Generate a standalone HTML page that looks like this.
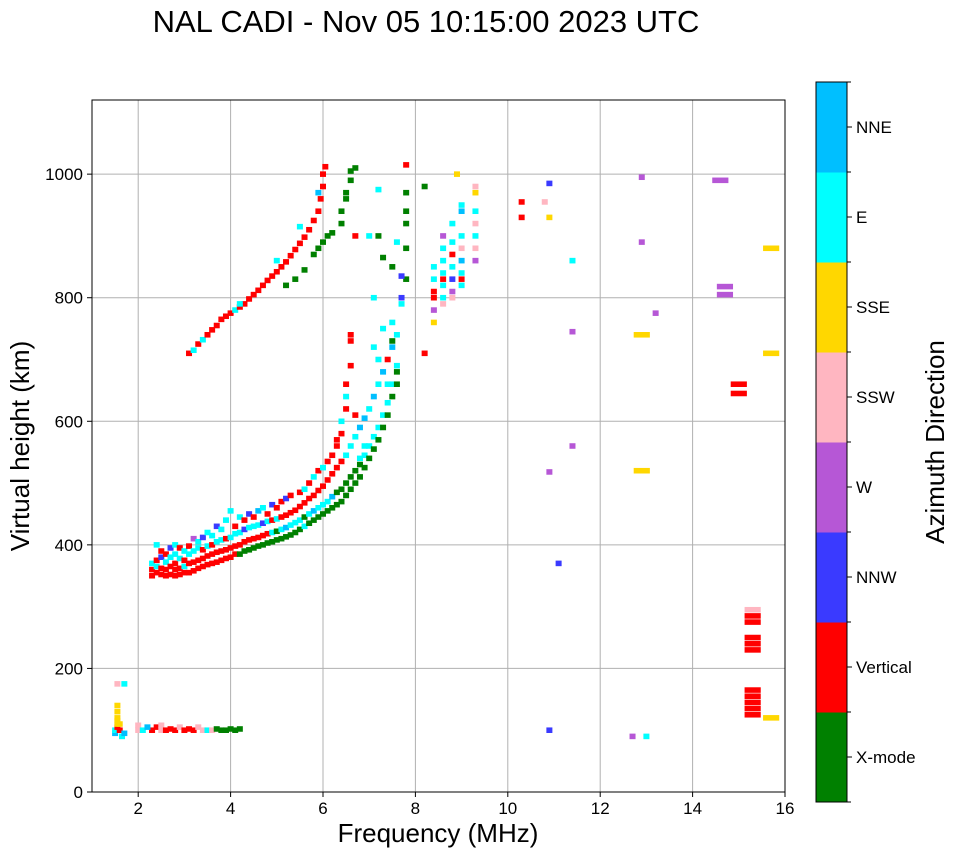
<!DOCTYPE html>
<html><head><meta charset="utf-8"><style>
body{margin:0;background:#fff;font-family:"Liberation Sans",sans-serif}
svg{display:block}
</style></head><body>
<svg id="chart" width="958" height="857" xmlns="http://www.w3.org/2000/svg">
<text x="426" y="32" font-size="31" text-anchor="middle">NAL CADI - Nov 05 10:15:00 2023 UTC</text>
<g id="grid"></g>
<g id="marks"></g>
<rect x="92" y="100" width="693" height="692" fill="none" stroke="#000" stroke-width="1"/>
<g id="axes"></g>
<text x="438" y="842" font-size="26" text-anchor="middle">Frequency (MHz)</text>
<text transform="translate(29,446) rotate(-90)" font-size="26" text-anchor="middle">Virtual height (km)</text>
<g id="cbar"></g>
<text transform="translate(944,442) rotate(-90)" font-size="26" text-anchor="middle">Azimuth Direction</text>
</svg>
<script>
const xTicks=[2,4,6,8,10,12,14,16];
const yTicks=[0,200,400,600,800,1000];
const categories=["X-mode","Vertical","NNW","W","SSW","SSE","E","NNE"];
const catColors=["#008000","#ff0000","#3a3aff","#b657d6","#ffb6c1","#ffd700","#00ffff","#00bfff"];
// [freq MHz, height km, category index, optional width MHz]
const eLayer=[[1.5,95,7],[1.5,100,6],[1.55,105,1],[1.55,110,5],[1.55,115,5],[1.55,120,5],[1.55,130,5],[1.55,140,5],[1.6,100,1],[1.6,110,5],[1.55,175,4],[1.7,175,6],[1.65,90,6],[1.7,95,7],[2.0,100,4],[2.0,108,4],[2.1,100,6],[2.3,100,1],[2.4,105,1],[2.5,100,4],[2.5,108,4],[2.6,100,1],[2.7,102,1],[2.8,100,1],[2.9,105,4],[3.0,100,1],[3.1,102,1],[3.2,100,1],[3.3,105,4],[3.4,100,4],[3.5,100,6],[3.6,100,4],[3.7,102,0],[3.8,100,0],[3.9,100,0],[4.0,102,0],[4.1,100,0],[4.2,102,0],[2.2,105,7]];
const fTrace=[[2.3,360,1],[2.3,370,6],[2.3,350,1],[2.4,355,1],[2.4,365,6],[2.4,375,1],[2.4,400,6],[2.5,352,1],[2.5,362,1],[2.5,380,2],[2.5,390,1],[2.6,350,1],[2.6,360,1],[2.6,372,6],[2.6,385,1],[2.7,352,1],[2.7,365,1],[2.7,380,6],[2.7,395,2],[2.8,350,1],[2.8,360,1],[2.8,370,1],[2.8,385,6],[2.8,400,6],[2.9,352,1],[2.9,362,1],[2.9,378,6],[2.9,395,1],[3.0,355,1],[3.0,365,6],[3.0,375,1],[3.0,390,6],[3.1,355,1],[3.1,370,1],[3.1,385,6],[3.1,398,1],[3.2,358,1],[3.2,372,1],[3.2,390,6],[3.2,410,3],[3.3,362,1],[3.3,375,1],[3.3,395,6],[3.3,405,6],[3.4,365,1],[3.4,378,1],[3.4,392,1],[3.4,412,2],[3.5,368,1],[3.5,382,1],[3.5,398,6],[3.5,420,6],[3.6,370,1],[3.6,385,1],[3.6,400,1],[3.6,415,6],[3.7,372,1],[3.7,388,1],[3.7,405,6],[3.7,430,2],[3.8,375,1],[3.8,390,1],[3.8,408,6],[3.8,425,6],[3.9,378,1],[3.9,392,1],[3.9,410,1],[3.9,440,6],[4.0,380,1],[4.0,395,1],[4.0,412,6],[4.0,455,6],[4.1,385,1],[4.1,398,1],[4.1,418,6],[4.1,430,1],[4.2,385,0],[4.2,400,1],[4.2,420,6],[4.2,445,6],[4.3,390,0],[4.3,405,1],[4.3,425,2],[4.3,440,1],[4.4,392,0],[4.4,408,1],[4.4,428,6],[4.4,450,2],[4.5,395,0],[4.5,410,1],[4.5,430,6],[4.5,445,1],[4.6,398,0],[4.6,412,1],[4.6,432,6],[4.6,455,7],[4.7,400,0],[4.7,415,1],[4.7,435,2],[4.7,460,6],[4.8,403,0],[4.8,418,1],[4.8,438,6],[4.8,450,1],[4.9,405,0],[4.9,420,6],[4.9,440,1],[4.9,465,2],[5.0,408,0],[5.0,422,0],[5.0,442,6],[5.0,460,1],[5.1,410,0],[5.1,425,6],[5.1,445,1],[5.1,470,1],[5.2,413,0],[5.2,428,7],[5.2,448,1],[5.2,475,2],[5.3,416,0],[5.3,432,6],[5.3,452,1],[5.3,480,1],[5.4,420,0],[5.4,436,6],[5.4,456,1],[5.5,425,0],[5.5,440,6],[5.5,462,1],[5.5,485,1],[5.6,430,6],[5.6,445,0],[5.6,468,1],[5.6,490,6],[5.7,435,0],[5.7,450,6],[5.7,475,1],[5.7,500,1],[5.8,440,0],[5.8,455,7],[5.8,480,1],[5.8,510,6],[5.9,445,0],[5.9,460,6],[5.9,488,1],[5.9,520,1],[6.0,450,0],[6.0,465,6],[6.0,495,1],[6.0,525,6],[6.1,455,0],[6.1,470,6],[6.1,505,1],[6.1,535,1],[6.2,460,0],[6.2,478,7],[6.2,515,1],[6.2,545,1],[6.3,465,0],[6.3,485,0],[6.3,525,1],[6.3,560,1],[6.3,570,1],[6.4,470,0],[6.4,490,0],[6.4,535,1],[6.4,580,1],[6.4,600,6],[6.5,480,0],[6.5,500,0],[6.5,545,6],[6.5,620,1],[6.5,640,6],[6.5,660,1],[6.6,490,0],[6.6,510,0],[6.6,560,6],[6.6,690,1],[6.6,740,1],[6.6,730,1],[6.7,500,0],[6.7,520,0],[6.7,575,6],[6.7,610,1],[6.8,510,0],[6.8,530,0],[6.8,590,7],[6.8,540,6],[6.9,525,0],[6.9,545,6],[6.9,605,7],[6.9,560,6],[7.0,540,0],[7.0,560,6],[7.0,620,6],[7.1,555,0],[7.1,575,6],[7.1,640,7],[7.1,720,6],[7.1,800,6],[7.2,570,0],[7.2,590,6],[7.2,660,6],[7.2,700,6],[7.3,590,0],[7.3,610,6],[7.3,680,7],[7.3,750,6],[7.4,610,0],[7.4,630,6],[7.4,700,1],[7.4,660,6],[7.5,640,0],[7.5,660,6],[7.5,720,7],[7.5,730,0],[7.5,760,6],[7.6,660,0],[7.6,680,0],[7.6,690,6]];
const secondHop=[[3.1,710,1],[3.2,715,6],[3.3,725,1],[3.4,732,6],[3.5,740,1],[3.6,748,1],[3.7,755,1],[3.8,765,1],[3.9,770,1],[4.0,775,1],[4.1,780,6],[4.2,785,1],[4.3,790,1],[4.4,798,1],[4.5,805,1],[4.6,812,1],[4.7,820,1],[4.8,828,1],[4.9,835,1],[5.0,842,1],[5.1,850,1],[5.2,858,1],[5.3,868,1],[5.4,878,1],[5.5,888,1],[5.6,898,1],[5.7,910,1],[5.8,925,1],[5.9,940,1],[5.95,960,1],[6.0,980,1],[6.0,1000,1],[6.05,1012,1],[4.2,790,6],[5.0,860,6],[5.5,915,6],[5.9,970,7],[5.2,820,0],[5.4,830,0],[5.6,845,0],[5.8,870,0],[5.9,880,0],[6.0,890,0],[6.1,900,0],[6.2,905,0],[6.4,940,0],[6.4,920,0],[6.5,960,0],[6.5,970,0],[6.6,990,0],[6.6,1005,0],[6.7,1010,0]];
const scattered=[[7.0,900,6],[7.2,900,0],[7.5,850,0],[7.6,890,6],[7.8,940,0],[7.8,920,0],[7.8,880,0],[7.8,830,0],[7.8,970,0],[7.2,975,6],[7.8,1015,1],[7.7,800,2],[7.7,835,2],[6.7,900,1],[7.3,865,0],[7.6,740,6],[7.7,790,6],[8.4,780,3],[8.4,810,1],[8.4,830,6],[8.4,850,6],[8.4,800,1],[8.4,760,5],[8.6,800,6],[8.6,820,6],[8.6,840,6],[8.6,860,6],[8.6,880,6],[8.6,900,3],[8.6,830,1],[8.6,790,4],[8.8,810,3],[8.8,830,2],[8.8,850,6],[8.8,870,1],[8.8,890,6],[8.8,920,6],[8.8,800,4],[9.0,820,6],[9.0,840,6],[9.0,860,7],[9.0,880,4],[9.0,900,6],[9.0,940,7],[9.0,950,6],[9.0,830,1],[9.3,860,3],[9.3,880,4],[9.3,900,6],[9.3,920,4],[9.3,940,6],[9.3,970,5],[9.3,980,4],[8.9,1000,5],[8.2,980,0],[8.2,710,1],[10.3,955,1],[10.3,930,1],[10.8,955,4],[10.9,985,2],[10.9,930,5],[11.4,860,6],[11.4,745,3],[11.4,560,3],[10.9,518,3],[11.1,370,2],[12.9,995,3],[12.9,890,3],[12.9,740,5],[12.9,520,5],[13.2,775,3],[14.6,990,3],[14.7,818,3],[14.7,805,3],[15.0,660,1],[15.0,645,1],[15.7,880,5],[15.7,710,5],[15.7,120,5],[15.3,295,4],[15.3,285,1],[15.3,275,1],[15.3,250,1],[15.3,240,1],[15.3,230,1],[15.3,165,1],[15.3,155,1],[15.3,145,1],[15.3,135,1],[15.3,125,1],[12.7,90,3],[13.0,90,6],[10.9,100,2]];
const NS="http://www.w3.org/2000/svg";
const X0=92,X1=785,Y0=792,Y1=100,FMIN=1,FMAX=16,HMIN=0,HMAX=1120;
function xs(f){return X0+(f-FMIN)/(FMAX-FMIN)*(X1-X0);}
function ys(h){return Y0-(h-HMIN)/(HMAX-HMIN)*(Y0-Y1);}
function mk(tag,attrs,parent){const e=document.createElementNS(NS,tag);for(const k in attrs)e.setAttribute(k,attrs[k]);parent.appendChild(e);return e;}
const grid=document.getElementById('grid'),axes=document.getElementById('axes'),marks=document.getElementById('marks'),cbar=document.getElementById('cbar');
xTicks.forEach(t=>{const x=xs(t);
 const l=mk('line',{x1:x,x2:x,y1:Y1,y2:Y0,stroke:'#b0b0b0','stroke-width':1},grid);
 
 
 mk('line',{x1:x,x2:x,y1:Y0,y2:Y0+5,stroke:'#000'},axes);
 const tx=mk('text',{x:x,y:Y0+22,'font-size':17,'text-anchor':'middle'},axes);tx.textContent=t;
 
 });
yTicks.forEach(t=>{const y=ys(t);
 const l=mk('line',{x1:X0,x2:X1,y1:y,y2:y,stroke:'#b0b0b0','stroke-width':1},grid);
 
 
 mk('line',{x1:X0-5,x2:X0,y1:y,y2:y,stroke:'#000'},axes);
 const tx=mk('text',{x:X0-9,y:y+6,'font-size':17,'text-anchor':'end'},axes);tx.textContent=t;
 
 });
function draw(arr,name){arr.forEach(p=>{const w=(p[3]||0.13);const x=xs(p[0]-w/2),x2=xs(p[0]+w/2);const y=ys(p[1]+4.5),y2=ys(p[1]-4.5);
 const r=mk('rect',{x:x,y:y,width:Math.max(2,x2-x),height:Math.max(2,y2-y),fill:catColors[p[2]]},marks);
 
 });}
draw(eLayer,'e-layer-echo');draw(fTrace,'f-layer-echo');draw(secondHop,'second-hop-echo');
draw(scattered.map(p=>(p[0]>=14.5||p[0]===12.9&&p[1]<800)?[p[0],p[1],p[2],0.35]:p),'scattered-echo');
const CX=816,CW=31,CT=82,CB=802,ch=(CB-CT)/categories.length;
categories.forEach((c,i)=>{const y=CB-(i+1)*ch;
 const r=mk('rect',{x:CX,y:y,width:CW,height:ch+0.5,fill:catColors[i]},cbar);
 
 
 mk('line',{x1:CX+CW,x2:CX+CW+5,y1:y+ch/2,y2:y+ch/2,stroke:'#000'},cbar);
 const t=mk('text',{x:CX+CW+9,y:y+ch/2+6,'font-size':17},cbar);t.textContent=c;
 
 });
for(let i=0;i<=categories.length;i++){const y=CB-i*ch;mk('line',{x1:CX+CW,x2:CX+CW+4,y1:y,y2:y,stroke:'#000'},cbar);}
mk('rect',{x:CX,y:CT,width:CW,height:CB-CT,fill:'none',stroke:'#000'},cbar);
</script>
</body></html>
